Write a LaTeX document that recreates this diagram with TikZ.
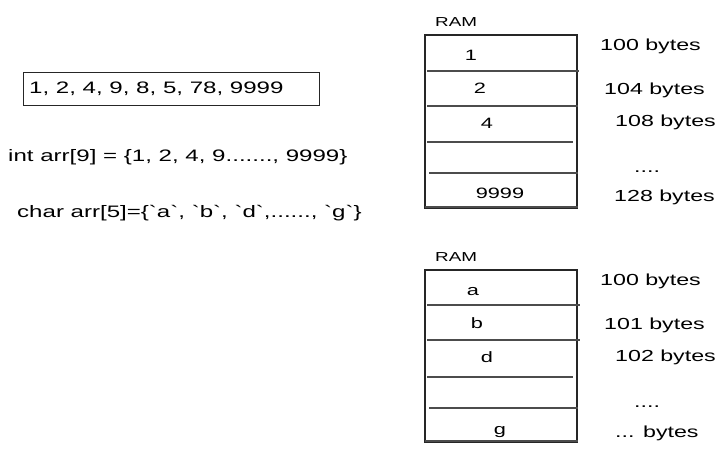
\documentclass[tikz,border=0pt]{standalone}
\usepackage{fontspec}
\setmainfont{Liberation Sans}
\newfontfamily\hand[FakeStretch=1.45]{Liberation Sans}
\begin{document}
\begin{tikzpicture}[x=1pt,y=-1pt,
  ink/.style={draw=black!85,line width=1.1pt},
  sep/.style={draw=black!70,line width=1.8pt},
  txt/.style={inner sep=0pt,font=\hand\fontsize{15}{18}\selectfont},
  ramtxt/.style={inner sep=0pt,anchor=west,font=\hand\fontsize{13}{16}\selectfont},
  lbl/.style={inner sep=0pt,anchor=west,font=\hand\fontsize{16}{19}\selectfont},
  code/.style={inner sep=0pt,anchor=west,font=\hand\fontsize{16.6}{19}\selectfont}]
\useasboundingbox (0,0) rectangle (723,455);
% left side
\node[ink,minimum width=296pt,minimum height=33pt,anchor=north west] (arrbox) at (23,72) {};
\node[code] (arrtxt) at (29,89) {1, 2, 4, 9, 8, 5, 78, 9999};
\node[code] (intline) at (8,157) {int arr[9] = \{1, 2, 4, 9......., 9999\}};
\node[code] (charline) at (17,213) {char arr[5]=\{`a`, `b`, `d`,......, `g`\}};
% RAM 1
\node[ramtxt] (ram1) at (435,22) {RAM};
\draw[ink] (425,35) rectangle (577,208);
\coordinate (a1l) at (427,71); \coordinate (a1r) at (579,71);
\coordinate (a2l) at (427,106); \coordinate (a2r) at (578,106);
\coordinate (a3l) at (427,142); \coordinate (a3r) at (573,142);
\coordinate (a4l) at (429,173); \coordinate (a4r) at (578,173);
\coordinate (a5l) at (425,207); \coordinate (a5r) at (578,207);
\draw[sep] (a1l) -- (a1r);
\draw[sep] (a2l) -- (a2r);
\draw[sep] (a3l) -- (a3r);
\draw[sep] (a4l) -- (a4r);
\draw[sep] (a5l) -- (a5r);
\node[txt] (v1) at (471,55) {1};
\node[txt] (v2) at (480,88) {2};
\node[txt] (v3) at (487,123) {4};
\node[txt] (v4) at (500,193) {9999};
\node[lbl] (b1) at (600,46) {100 bytes};
\node[lbl] (b2) at (604,90) {104 bytes};
\node[lbl] (b3) at (615,122) {108 bytes};
\node[lbl] (b4) at (634,172) {....};
\node[lbl] (b5) at (614,197) {128 bytes};
% RAM 2
\node[ramtxt] (ram2) at (435,257) {RAM};
\draw[ink] (425,270) rectangle (577,442);
\coordinate (c1l) at (427,305); \coordinate (c1r) at (580,305);
\coordinate (c2l) at (427,340); \coordinate (c2r) at (580,340);
\coordinate (c3l) at (427,377); \coordinate (c3r) at (573,377);
\coordinate (c4l) at (429,408); \coordinate (c4r) at (578,408);
\coordinate (c5l) at (425,441); \coordinate (c5r) at (578,441);
\draw[sep] (c1l) -- (c1r);
\draw[sep] (c2l) -- (c2r);
\draw[sep] (c3l) -- (c3r);
\draw[sep] (c4l) -- (c4r);
\draw[sep] (c5l) -- (c5r);
\node[txt] (w1) at (473,292) {a};
\node[txt] (w2) at (477,323) {b};
\node[txt] (w3) at (487,357) {d};
\node[txt] (w4) at (500,432) {g};
\node[lbl] (d1) at (600,281) {100 bytes};
\node[lbl] (d2) at (604,325) {101 bytes};
\node[lbl] (d3) at (615,357) {102 bytes};
\node[lbl] (d4) at (634,407) {....};
\node[lbl] (d5) at (615,433) {... bytes};
\end{tikzpicture}
\end{document}
